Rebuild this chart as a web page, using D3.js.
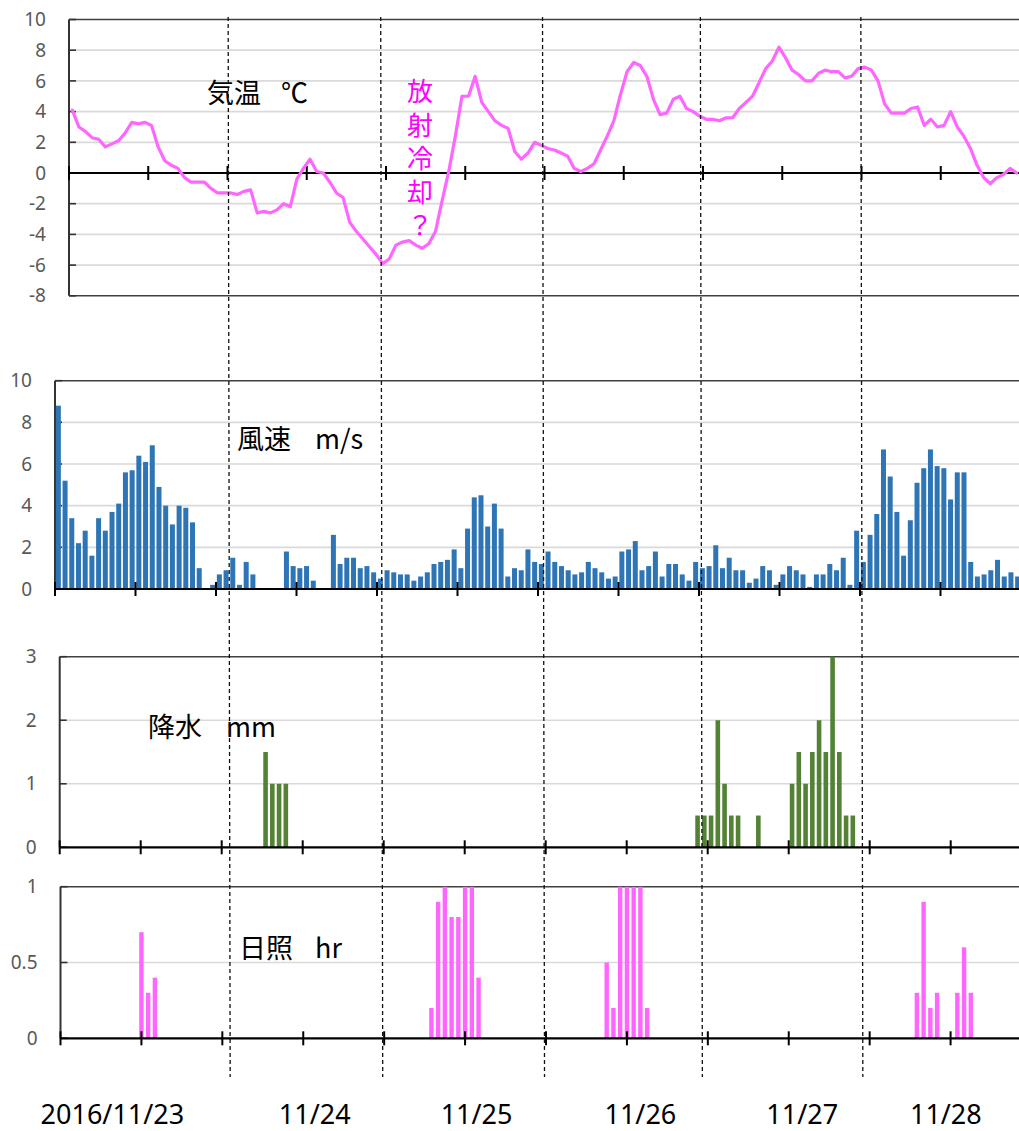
<!DOCTYPE html>
<html>
<head>
<meta charset="utf-8">
<script src="https://cdn.jsdelivr.net/npm/d3@7"></script>
<style>
  body { margin: 0; background: #fff; }
  svg { display: block; }
</style>
</head>
<body>
<div id="chart"></div>
<script>
// hourly values, 2016/11/23 01:00 .. 11/29 00:00 (144 hours)
const temperature = [
  4.1, 3.0, 2.7, 2.3, 2.2, 1.7, 1.9, 2.1, 2.6, 3.3,
  3.2, 3.3, 3.1, 1.7, 0.8, 0.5, 0.3, -0.3, -0.6, -0.6,
  -0.6, -1.0, -1.3, -1.3, -1.3, -1.4, -1.2, -1.1, -2.6, -2.5,
  -2.6, -2.4, -2.0, -2.2, -0.4, 0.3, 0.9, 0.1, 0.0, -0.6,
  -1.3, -1.6, -3.2, -3.8, -4.3, -4.8, -5.3, -5.9, -5.6, -4.7,
  -4.5, -4.4, -4.7, -4.9, -4.6, -3.8, -1.8, 0.1, 2.4, 5.0,
  5.0, 6.3, 4.6, 4.0, 3.4, 3.1, 2.9, 1.4, 0.9, 1.3,
  2.0, 1.8, 1.6, 1.5, 1.3, 1.1, 0.3, 0.1, 0.3, 0.6,
  1.5, 2.4, 3.4, 5.1, 6.6, 7.2, 7.0, 6.3, 4.8, 3.8,
  3.9, 4.8, 5.0, 4.2, 4.0, 3.7, 3.5, 3.5, 3.4, 3.6,
  3.6, 4.2, 4.6, 5.0, 5.9, 6.8, 7.3, 8.2, 7.5, 6.7,
  6.4, 6.0, 6.0, 6.5, 6.7, 6.6, 6.6, 6.2, 6.3, 6.8,
  6.9, 6.7, 6.0, 4.5, 3.9, 3.9, 3.9, 4.2, 4.3, 3.1,
  3.5, 3.0, 3.1, 4.0, 3.0, 2.4, 1.6, 0.5, -0.3, -0.7,
  -0.3, -0.1, 0.3, 0.0
];

const windSpeed = [
  8.8, 5.2, 3.4, 2.2, 2.8, 1.6, 3.4, 2.8, 3.7, 4.1,
  5.6, 5.7, 6.4, 6.1, 6.9, 4.9, 4.0, 3.1, 4.0, 3.9,
  3.2, 1.0, 0, 0.2, 0.7, 0.9, 1.5, 0.2, 1.3, 0.7,
  0, 0, 0, 0, 1.8, 1.1, 1.0, 1.1, 0.4, 0,
  0, 2.6, 1.2, 1.5, 1.5, 1.0, 1.1, 0.8, 0.5, 0.9,
  0.8, 0.7, 0.7, 0.4, 0.6, 0.8, 1.2, 1.3, 1.4, 1.9,
  1.0, 2.9, 4.4, 4.5, 3.0, 4.1, 2.9, 0.6, 1.0, 0.9,
  1.9, 1.3, 1.2, 1.8, 1.3, 1.1, 0.9, 0.7, 0.8, 1.3,
  1.0, 0.8, 0.5, 0.6, 1.8, 1.9, 2.3, 0.9, 1.1, 1.8,
  0.6, 1.2, 1.2, 0.7, 0.4, 1.3, 1.0, 1.1, 2.1, 1.0,
  1.5, 0.9, 0.9, 0.3, 0.5, 1.1, 0.9, 0.2, 0.7, 1.1,
  0.9, 0.7, 0.1, 0.7, 0.7, 1.2, 0.9, 1.5, 0.2, 2.8,
  1.3, 2.6, 3.6, 6.7, 5.4, 3.7, 1.6, 3.3, 5.1, 5.8,
  6.7, 5.9, 5.8, 4.3, 5.6, 5.6, 1.3, 0.6, 0.7, 0.9,
  1.4, 0.6, 0.8, 0.6
];

const precipitation = [
  0, 0, 0, 0, 0, 0, 0, 0, 0, 0,
  0, 0, 0, 0, 0, 0, 0, 0, 0, 0,
  0, 0, 0, 0, 0, 0, 0, 0, 0, 0,
  1.5, 1, 1, 1, 0, 0, 0, 0, 0, 0,
  0, 0, 0, 0, 0, 0, 0, 0, 0, 0,
  0, 0, 0, 0, 0, 0, 0, 0, 0, 0,
  0, 0, 0, 0, 0, 0, 0, 0, 0, 0,
  0, 0, 0, 0, 0, 0, 0, 0, 0, 0,
  0, 0, 0, 0, 0, 0, 0, 0, 0, 0,
  0, 0, 0, 0, 0.5, 0.5, 0.5, 2, 1, 0.5,
  0.5, 0, 0, 0.5, 0, 0, 0, 0, 1, 1.5,
  1, 1.5, 2, 1.5, 3, 1.5, 0.5, 0.5, 0, 0,
  0, 0, 0, 0, 0, 0, 0, 0, 0, 0,
  0, 0, 0, 0, 0, 0, 0, 0, 0, 0,
  0, 0, 0, 0
];

const sunshine = [
  0, 0, 0, 0, 0, 0, 0, 0, 0, 0,
  0, 0, 0.7, 0.3, 0.4, 0, 0, 0, 0, 0,
  0, 0, 0, 0, 0, 0, 0, 0, 0, 0,
  0, 0, 0, 0, 0, 0, 0, 0, 0, 0,
  0, 0, 0, 0, 0, 0, 0, 0, 0, 0,
  0, 0, 0, 0, 0, 0.2, 0.9, 1, 0.8, 0.8,
  1, 1, 0.4, 0, 0, 0, 0, 0, 0, 0,
  0, 0, 0, 0, 0, 0, 0, 0, 0, 0,
  0, 0.5, 0.2, 1, 1, 1, 1, 0.2, 0, 0,
  0, 0, 0, 0, 0, 0, 0, 0, 0, 0,
  0, 0, 0, 0, 0, 0, 0, 0, 0, 0,
  0, 0, 0, 0, 0, 0, 0, 0, 0, 0,
  0, 0, 0, 0, 0, 0, 0, 0.3, 0.9, 0.2,
  0.3, 0, 0, 0.3, 0.6, 0.3, 0, 0, 0, 0,
  0, 0, 0, 0
];

const tempTicks = [-8, -6, -4, -2, 0, 2, 4, 6, 8, 10];
const windTicks = [0, 2, 4, 6, 8, 10];
const precipTicks = [0, 1, 2, 3];
const sunTicks = [0, 0.5, 1];
const hourTicks = [0, 12, 24, 36, 48, 60, 72, 84, 96, 108, 120, 132, 144];

const dateLabels = ["2016/11/23", "11/24", "11/25", "11/26", "11/27", "11/28"];
const dateLabelHours = [7.7, 37.7, 61.7, 86, 110, 131.3];
const dividerHours = [24.1, 47.2, 71.7, 95.6, 119.9];

const dimensions = { width: 1019, height: 1131 };
const nHours = temperature.length;

const panels = {
  temp: { left: 69, top: 19.5, bottom: 295.8, width: 951 },
  wind: { left: 55, top: 380.7, bottom: 589, width: 966 },
  precip: { left: 59.7, top: 656.7, bottom: 847.3, width: 972 },
  sun: { left: 60.5, top: 886.7, bottom: 1038.3, width: 971 },
};

const svg = d3
  .select("#chart")
  .append("svg")
  .attr("width", dimensions.width)
  .attr("height", dimensions.height)
  .style("font-family", '"Noto Sans", "Noto Sans CJK JP", sans-serif');

svg.append("rect")
  .attr("width", dimensions.width)
  .attr("height", dimensions.height)
  .attr("fill", "#fff");

// draws grid, frame and axes for one panel, returns its scales
function drawFrame(p, ticks, zero) {
  const x = d3.scaleLinear().domain([0, nHours]).range([p.left, p.left + p.width]);
  const y = d3.scaleLinear()
    .domain([ticks[0], ticks[ticks.length - 1]])
    .range([p.bottom, p.top]);
  const g = svg.append("g");
  const right = dimensions.width + 20;
  const top = ticks[ticks.length - 1];
  const bottom = ticks[0];

  // gridlines
  g.selectAll("line.grid")
    .data(ticks.filter((t) => t !== zero && t !== top && t !== bottom))
    .enter()
    .append("line")
    .attr("x1", p.left)
    .attr("x2", right)
    .attr("y1", (d) => y(d))
    .attr("y2", (d) => y(d))
    .attr("stroke", "#d9d9d9")
    .attr("stroke-width", 1.7);

  // top line (and bottom one when zero sits inside)
  g.selectAll("line.edge")
    .data(bottom === zero ? [top] : [top, bottom])
    .enter()
    .append("line")
    .attr("x1", p.left)
    .attr("x2", right)
    .attr("y1", (d) => y(d))
    .attr("y2", (d) => y(d))
    .attr("stroke", "#404040")
    .attr("stroke-width", 1.6);

  // y axis with inward ticks
  g.append("line")
    .attr("x1", p.left).attr("x2", p.left)
    .attr("y1", y(top)).attr("y2", y(bottom))
    .attr("stroke", "#333").attr("stroke-width", 2);
  g.selectAll("line.ytick")
    .data(ticks)
    .enter()
    .append("line")
    .attr("x1", p.left).attr("x2", p.left + 7)
    .attr("y1", (d) => y(d)).attr("y2", (d) => y(d))
    .attr("stroke", "#333").attr("stroke-width", 1.6);

  g.selectAll("text.ylab")
    .data(ticks)
    .enter()
    .append("text")
    .attr("x", p.left - 23)
    .attr("y", (d) => y(d))
    .attr("dy", "0.35em")
    .attr("text-anchor", "end")
    .attr("font-size", "19px")
    .attr("fill", "#595959")
    .text((d) => d);

  return { x, y, g, right };
}

function drawXAxis(frame) {
  const { x, y, g, right } = frame;
  const y0 = y(0);
  const axis = svg.append("g");
  axis.append("line")
    .attr("x1", x(0)).attr("x2", right)
    .attr("y1", y0).attr("y2", y0)
    .attr("stroke", "#000").attr("stroke-width", 2.2);
  axis.selectAll("line.xtick")
    .data(hourTicks)
    .enter()
    .append("line")
    .attr("x1", (d) => x(d)).attr("x2", (d) => x(d))
    .attr("y1", y0 - 7).attr("y2", y0 + 7)
    .attr("stroke", "#000").attr("stroke-width", 2);
}

function drawBars(frame, values, color, barWidth, offset) {
  const { x, y } = frame;
  svg.append("g")
    .selectAll("rect")
    .data(values.map((v, i) => ({ v, i })).filter((d) => d.v > 0))
    .enter()
    .append("rect")
    .attr("x", (d) => x(d.i + offset) - barWidth / 2)
    .attr("y", (d) => y(d.v))
    .attr("width", barWidth)
    .attr("height", (d) => y(0) - y(d.v))
    .attr("fill", color);
}

function panelLabel(text, unit, x, y, gap) {
  const t = svg.append("text")
    .attr("x", x)
    .attr("y", y)
    .attr("font-family", '"Noto Sans CJK JP", sans-serif')
    .attr("font-size", "27px")
    .attr("fill", "#000");
  t.append("tspan").text(text);
  t.append("tspan").attr("dx", gap).text(unit);
}

// temperature
const tempFrame = drawFrame(panels.temp, tempTicks, 0);
drawXAxis(tempFrame);
svg.append("path")
  .datum(temperature)
  .attr("fill", "none")
  .attr("stroke", "#ff66ff")
  .attr("stroke-width", 3.2)
  .attr("stroke-linejoin", "round")
  .attr("stroke-linecap", "round")
  .attr("d", d3.line()
    .x((d, i) => tempFrame.x(i + 0.5))
    .y((d) => tempFrame.y(d)));
panelLabel("気温", "℃", 207, 103, 20);

// 放射冷却？ note, written vertically
svg.append("g")
  .selectAll("text")
  .data(["放", "射", "冷", "却", "？"])
  .enter()
  .append("text")
  .attr("x", 420)
  .attr("y", (d, i) => 101 + i * 33.5)
  .attr("text-anchor", "middle")
  .attr("font-family", '"Noto Sans CJK JP", sans-serif')
  .attr("font-size", "26px")
  .attr("fill", "#ff00ff")
  .text((d) => d);

// wind speed
const windFrame = drawFrame(panels.wind, windTicks, 0);
drawBars(windFrame, windSpeed, "#2e75b6", 5, 0.5);
drawXAxis(windFrame);
panelLabel("風速", "m/s", 237, 449, 24);

// precipitation
const precipFrame = drawFrame(panels.precip, precipTicks, 0);
drawBars(precipFrame, precipitation, "#548235", 4.6, 0.5);
drawXAxis(precipFrame);
panelLabel("降水", "mm", 148, 737, 24);

// sunshine
const sunFrame = drawFrame(panels.sun, sunTicks, 0);
drawBars(sunFrame, sunshine, "#ff66ff", 4.4, 0);
drawXAxis(sunFrame);
panelLabel("日照", "hr", 239, 958, 22);

// date labels
svg.append("g")
  .selectAll("text")
  .data(dateLabels)
  .enter()
  .append("text")
  .attr("x", (d, i) => sunFrame.x(dateLabelHours[i]))
  .attr("y", 1124)
  .attr("text-anchor", "middle")
  .attr("font-size", "27px")
  .attr("fill", "#000")
  .text((d) => d);

// dashed day dividers across all panels
svg.append("g")
  .selectAll("line")
  .data(dividerHours)
  .enter()
  .append("line")
  .attr("x1", (d) => tempFrame.x(d))
  .attr("x2", (d) => tempFrame.x(d) + 2)
  .attr("y1", 17)
  .attr("y2", 1077)
  .attr("stroke", "#111")
  .attr("stroke-width", 1.3)
  .attr("stroke-dasharray", "4,3");
</script>
</body>
</html>
